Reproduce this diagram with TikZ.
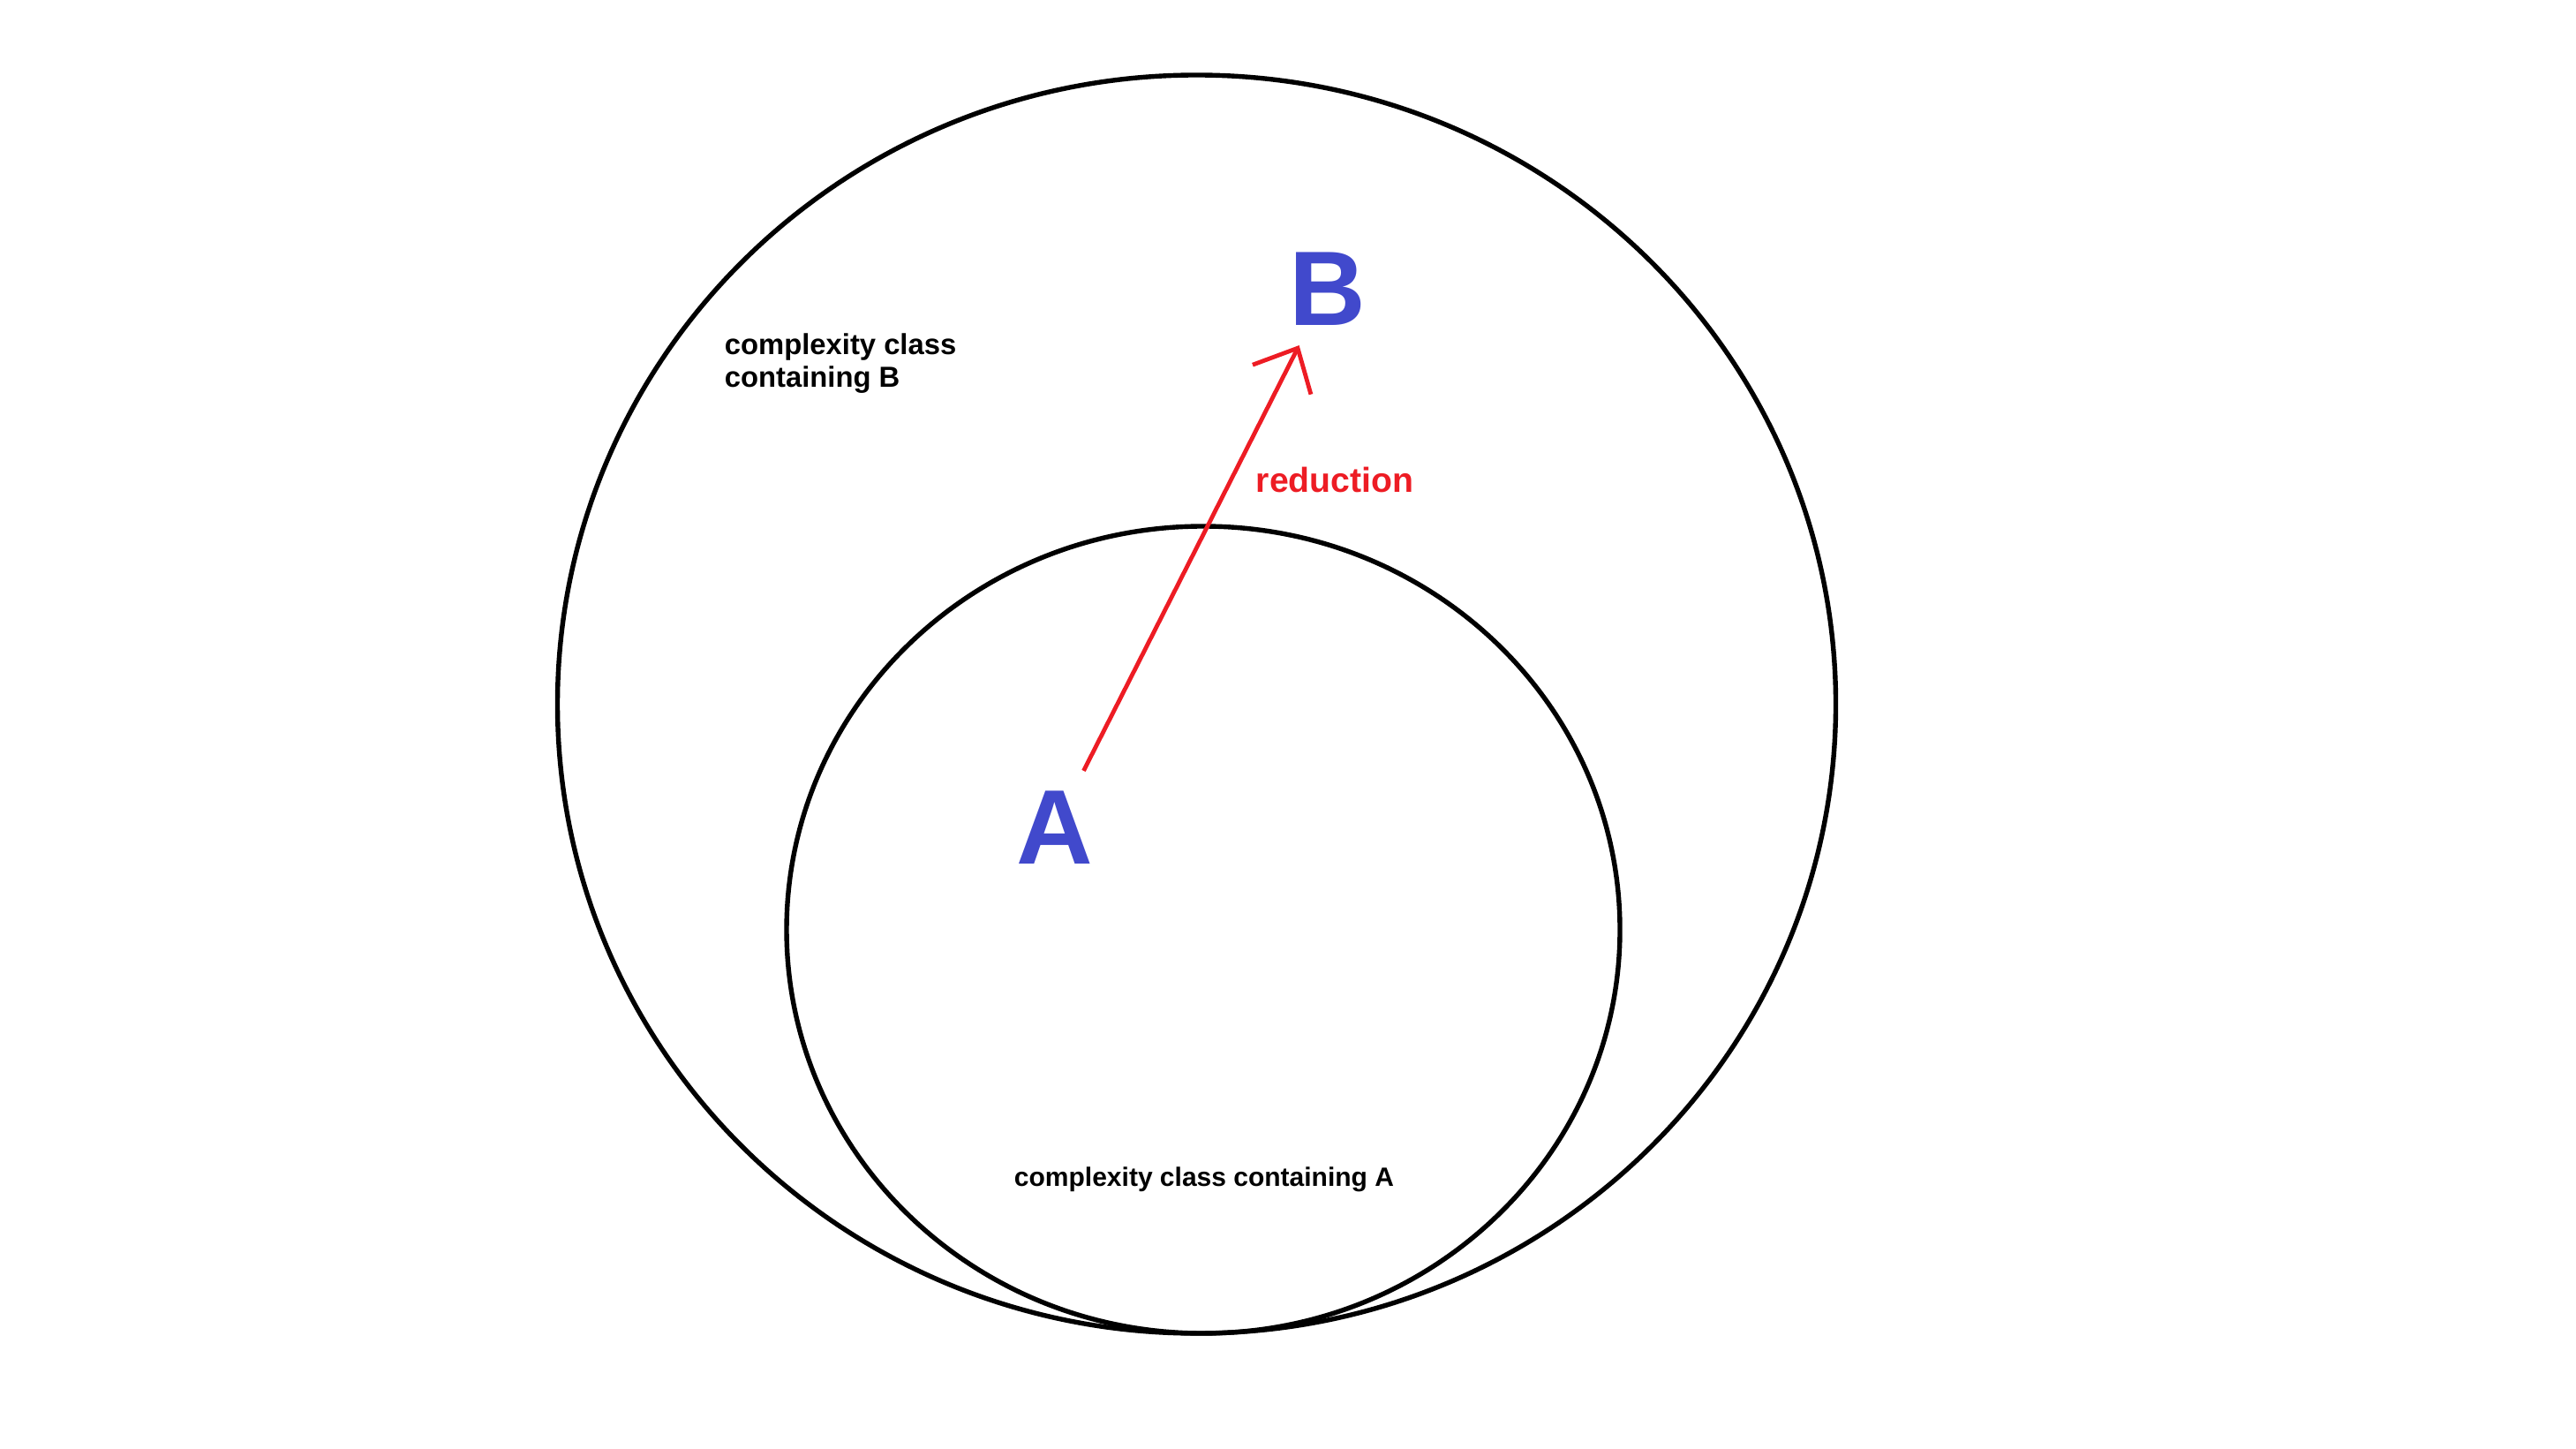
\documentclass[tikz,border=0pt]{standalone}
\usepackage{fontspec}
\setmainfont{Liberation Sans}
\usetikzlibrary{arrows.meta}
\definecolor{letterblue}{RGB}{65,73,204}
\definecolor{redline}{RGB}{237,28,36}
\begin{document}
\begin{tikzpicture}[x=25pt,y=25pt,
	classline/.style={line width=1.35pt},
	letter/.style={text=letterblue,font=\fontsize{30}{36}\selectfont\bfseries,inner sep=5.5pt},
	classlabel/.style={font=\fontsize{8.2}{9.25}\selectfont\bfseries,align=left,inner sep=0pt},
	redlabel/.style={text=redline,font=\fontsize{9.8}{12}\selectfont\bfseries,inner sep=0pt},
	reduce/.style={draw=redline,line width=1.2pt,-{Straight Barb[length=10pt,width=18.5pt]}}]
		\useasboundingbox (0,0) rectangle (29.18,16.40);
		\draw[classline] (13.555,8.425) ellipse [x radius=7.24,y radius=7.125];
		\draw[classline] (13.63,5.87) ellipse [x radius=4.72,y radius=4.57];
		\node[letter] (A) at (11.95,7.03) {A};
		\node[letter] (B) at (15.04,13.13) {B};
		\draw[reduce] (A) -- (B);
		\node[redlabel,anchor=base west] (red) at (14.22,10.82) {reduction};
		\node[classlabel,anchor=base west] (classB) at (8.20,12.01) {complexity class\\containing B};
		\node[classlabel,font=\fontsize{7.5}{9}\selectfont\bfseries,anchor=base] (classA) at (13.64,2.97) {complexity class containing A};
	\end{tikzpicture}
\end{document}
